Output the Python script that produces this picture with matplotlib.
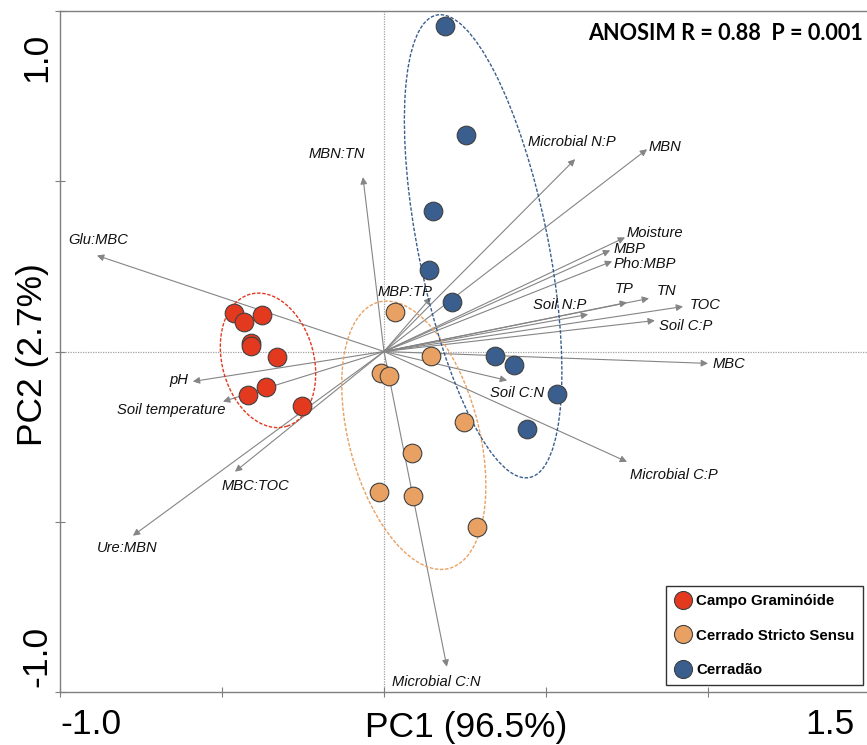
import matplotlib
matplotlib.use("Agg")
import matplotlib.pyplot as plt
from matplotlib.patches import Ellipse
from matplotlib.lines import Line2D

plt.rcParams['font.family'] = ['Liberation Sans', 'DejaVu Sans']

# ================= DATOS =================
groups = ["Campo Graminóide", "Cerrado Stricto Sensu", "Cerradão"]
colors = ["#E2391F", "#E9A163", "#3A5E8E"]

campo_x = [-0.463, -0.432, -0.377, -0.410, -0.410, -0.330, -0.364, -0.420, -0.253]
campo_y = [0.112, 0.088, 0.106, 0.026, 0.015, -0.015, -0.103, -0.129, -0.159]

css_x = [0.034, 0.145, -0.009, 0.015, 0.247, 0.086, -0.015, 0.090, 0.287]
css_y = [0.115, -0.012, -0.062, -0.071, -0.206, -0.297, -0.412, -0.424, -0.515]

cerradao_x = [0.188, 0.253, 0.151, 0.139, 0.210, 0.343, 0.401, 0.534, 0.441]
cerradao_y = [0.956, 0.635, 0.412, 0.238, 0.144, -0.012, -0.041, -0.124, -0.229]

# elipses: centro x, centro y, semi-eixo menor, semi-eixo maior, angulo
ell_cx = [-0.358, 0.092, 0.306]
ell_cy = [-0.026, -0.246, 0.309]
ell_b = [0.141, 0.200, 0.200]
ell_a = [0.202, 0.406, 0.694]
ell_ang = [17, 16, 12]

# vetores (variaveis)
var_names = ["MBN:TN", "MBP:TP", "Microbial N:P", "MBN", "Moisture", "MBP",
             "Pho:MBP", "TP", "TN", "TOC", "Soil C:P", "Soil N:P", "MBC",
             "Soil C:N", "Microbial C:P", "Microbial C:N", "Glu:MBC", "pH",
             "Soil temperature", "MBC:TOC", "Ure:MBN"]
var_x = [-0.065, 0.145, 0.590, 0.812, 0.744, 0.698, 0.704, 0.750, 0.818,
         0.923, 0.836, 0.630, 1.000, 0.380, 0.750, 0.194, -0.886, -0.590,
         -0.497, -0.460, -0.775]
var_y = [0.512, 0.159, 0.565, 0.594, 0.335, 0.297, 0.265, 0.144, 0.156,
         0.132, 0.091, 0.109, -0.035, -0.085, -0.324, -0.926, 0.282, -0.088,
         -0.147, -0.353, -0.541]
lab_x = [-0.145, 0.065, 0.444, 0.815, 0.750, 0.710, 0.710, 0.713, 0.843,
         0.944, 0.849, 0.460, 1.015, 0.327, 0.759, 0.025, -0.975, -0.605,
         -0.488, -0.500, -0.886]
lab_y = [0.579, 0.176, 0.615, 0.600, 0.347, 0.300, 0.256, 0.185, 0.179,
         0.138, 0.076, 0.138, -0.038, -0.121, -0.362, -0.971, 0.326, -0.085,
         -0.171, -0.394, -0.576]
lab_ha = ["center", "center", "left", "left", "left", "left", "left", "left",
          "left", "left", "left", "left", "left", "left", "left", "left",
          "left", "right", "right", "left", "left"]

# ================= GRAFICO =================
fig = plt.figure(figsize=(8.67, 7.45), dpi=100)
ax = fig.add_axes([60 / 867, 53 / 745, 810 / 867, 681 / 745])
ax.set_xlim(-1.0, 1.5)
ax.set_ylim(-1.0, 1.0)

ax.axhline(0, color="#A0A0A0", lw=0.9, ls=(0, (1, 1)), zorder=1)
ax.axvline(0, color="#A0A0A0", lw=0.9, ls=(0, (1, 1)), zorder=1)

for name, x, y, lx, ly, ha in zip(var_names, var_x, var_y, lab_x, lab_y, lab_ha):
    ax.annotate("", xy=(x, y), xytext=(0, 0),
                arrowprops=dict(arrowstyle="-|>", color="#858585", lw=0.8,
                                mutation_scale=10, shrinkA=0, shrinkB=0),
                zorder=2)
    ax.text(lx, ly, name, ha=ha, va="center", fontsize=10.6,
            style="italic", color="#111111", zorder=5)

for cx, cy, b, a, ang, c in zip(ell_cx, ell_cy, ell_b, ell_a, ell_ang, colors):
    ax.add_patch(Ellipse((cx, cy), 2 * b, 2 * a, angle=ang, fill=False,
                         edgecolor=c, lw=1.0, ls=(0, (2.5, 1.2)), zorder=3))

for xs, ys, c in zip([campo_x, css_x, cerradao_x], [campo_y, css_y, cerradao_y], colors):
    ax.scatter(xs, ys, s=180, color=c, edgecolor="#404040", linewidth=0.8, zorder=4)

for s in ["top", "left", "bottom"]:
    ax.spines[s].set_color("#7F7F7F")
    ax.spines[s].set_linewidth(1.0)
ax.spines["right"].set_visible(False)

ax.set_xticks([-1.0, -0.5, 0.0, 0.5, 1.0, 1.5])
ax.set_yticks([-1.0, -0.5, 0.0, 0.5, 1.0])
ax.tick_params(direction="inout", length=7, width=0.8, color="#7F7F7F",
               labelbottom=False, labelleft=False)

big = 25.5
fig.text(60 / 867, 1 - 725 / 745, "-1.0", ha="left", va="center", fontsize=big)
fig.text(855 / 867, 1 - 725 / 745, "1.5", ha="right", va="center", fontsize=big)
fig.text(466 / 867, 1 - 727 / 745, "PC1 (96.5%)", ha="center", va="center", fontsize=big)
fig.text(37 / 867, 1 - 57 / 745, "1.0", ha="center", va="center", fontsize=big, rotation=90)
fig.text(37 / 867, 1 - 656 / 745, "-1.0", ha="center", va="center", fontsize=big, rotation=90)
fig.text(33 / 867, 1 - 355 / 745, "PC2 (2.7%)", ha="center", va="center", fontsize=big, rotation=90)

fig.text(863 / 867, 1 - 33 / 745, "ANOSIM R = 0.88  P = 0.001", ha="right",
         va="center", fontsize=15.6, fontweight="bold", family=["Lato", "DejaVu Sans"])

handles = [Line2D([], [], ls="", marker="o", markersize=13, markerfacecolor=c,
                  markeredgecolor="#404040", markeredgewidth=0.8) for c in colors]
leg = fig.legend(handles, groups, loc="lower right",
                 bbox_to_anchor=(863 / 867, 60 / 745), borderaxespad=0,
                 prop=dict(weight="bold", size=10.8), frameon=True,
                 fancybox=False, framealpha=1, edgecolor="#333333",
                 handletextpad=0.3, labelspacing=1.35, borderpad=0.55,
                 handlelength=1.2)
leg.get_frame().set_linewidth(1.0)

fig.savefig("out.png", dpi=100)
